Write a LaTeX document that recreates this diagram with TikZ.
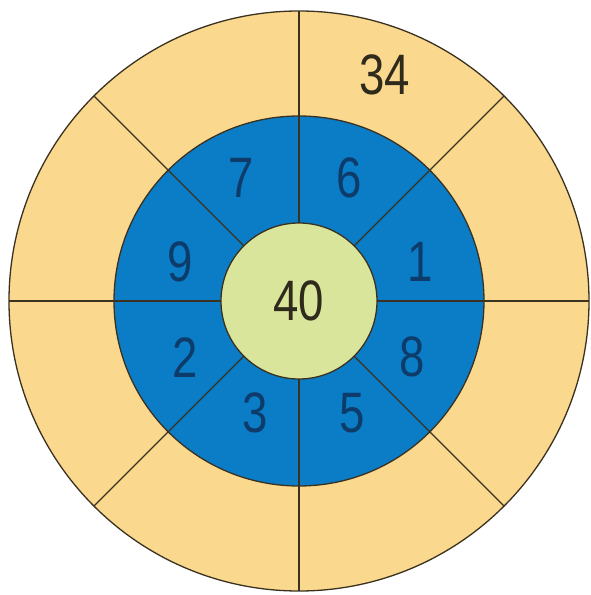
\documentclass[tikz,border=0pt]{standalone}
\usepackage{fontspec}
\setmainfont{Liberation Sans}
\usepackage{xcolor}
\usepackage{tikz}
\usetikzlibrary{positioning,calc}

\definecolor{ringsand}{HTML}{FAD98E}
\definecolor{ringblue}{HTML}{0B7DC6}
\definecolor{hubgreen}{HTML}{D9E59B}
\definecolor{rimline}{HTML}{3A3120}
\definecolor{digitdark}{HTML}{2E2A1C}
\definecolor{digitblue}{HTML}{0D3C6B}

\begin{document}
\begin{tikzpicture}[
    x=1pt, y=1pt,
    ring/.style={circle, draw=rimline, line width=1.3pt,
        inner sep=0pt, outer sep=0pt},
    spoke/.style={draw=rimline, line width=1.3pt},
    digit/.style={font=\fontsize{57}{57}\selectfont, text=digitblue,
        xscale=0.8, transform shape},
    sum/.style={digit, text=digitdark},
]
\useasboundingbox (-299,-294) rectangle (292,301);

% ── Rings ──
\node[ring, fill=ringsand, minimum size=580pt] (outer) at (0,0) {};
\node[ring, fill=ringblue, minimum size=370pt] (middle) at (0,0) {};
\node[ring, fill=hubgreen, minimum size=156pt] (hub) at (0,0) {};

% ── Spokes ──
\foreach \a in {0,45,...,315}
    \draw[spoke] (hub.\a) -- (outer.\a);

% ── Numbers ──
\node[sum] (centre) at (0,0) {40};
\node[sum] (top) at (86,226) {34};
\node[digit] (d7) at (-58,123) {7};
\node[digit] (d6) at (50,123) {6};
\node[digit] (d1) at (121,39) {1};
\node[digit] (d9) at (-119,39) {9};
\node[digit] (d2) at (-114,-57) {2};
\node[digit] (d8) at (113,-56) {8};
\node[digit] (d3) at (-44,-112) {3};
\node[digit] (d5) at (53,-112) {5};

\end{tikzpicture}
\end{document}
